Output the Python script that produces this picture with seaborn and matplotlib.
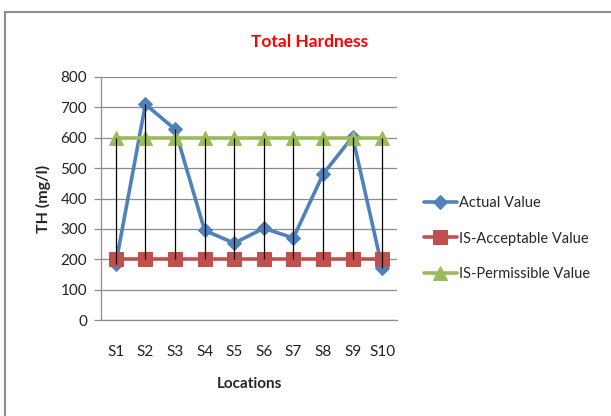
import matplotlib
matplotlib.use("Agg")
import matplotlib.pyplot as plt
from matplotlib.patches import Rectangle
import seaborn as sns
import pandas as pd
import numpy as np

# Sampling locations and measured total hardness (mg/l)
locations = ["S1", "S2", "S3", "S4", "S5", "S6", "S7", "S8", "S9", "S10"]
actual_value = [185, 710, 628, 295, 253, 302, 270, 480, 603, 172]
acceptable_value = [200, 200, 200, 200, 200, 200, 200, 200, 200, 200]
permissible_value = [600, 600, 600, 600, 600, 600, 600, 600, 600, 600]
series_names = ["Actual Value", "IS-Acceptable Value", "IS-Permissible Value"]
y_ticks = [0, 100, 200, 300, 400, 500, 600, 700, 800]

sns.set_theme(style="white")
plt.rcParams["font.family"] = ["Lato", "DejaVu Sans"]

df = pd.DataFrame({
    "pos": list(range(len(locations))) * 3,
    "value": actual_value + acceptable_value + permissible_value,
    "series": [series_names[0]] * len(locations)
    + [series_names[1]] * len(locations)
    + [series_names[2]] * len(locations),
})

palette = {series_names[0]: "#4F81BD", series_names[1]: "#C0504D", series_names[2]: "#9BBB59"}
markers = {series_names[0]: "D", series_names[1]: "s", series_names[2]: "^"}
msize = {series_names[0]: 7, series_names[1]: 9.5, series_names[2]: 9.5}

fig = plt.figure(figsize=(6.11, 4.16), dpi=100)
ax = fig.add_axes([101 / 611, 1 - 320 / 416, 296 / 611, 243 / 416])

for i, name in enumerate(series_names):
    sub = df[df["series"] == name]
    sns.lineplot(data=sub, x="pos", y="value", ax=ax, color=palette[name],
                 marker=markers[name], markersize=msize[name],
                 markeredgecolor=palette[name], linewidth=2.6,
                 label=name, zorder=3 + i)

# High-low lines spanning all series at each location
stack = np.array([actual_value, acceptable_value, permissible_value])
ax.vlines(range(len(locations)), stack.min(axis=0), stack.max(axis=0),
          color="black", linewidth=0.9, zorder=10)

ax.set_xlim(-0.5, len(locations) - 0.5)
ax.set_ylim(0, 800)
ax.set_yticks(y_ticks)
ax.set_xticks(range(len(locations)))
ax.set_xticklabels(locations)
ax.yaxis.grid(True, color="#8C8C8C", linewidth=0.9)
ax.set_axisbelow(True)
for s in ["top", "right"]:
    ax.spines[s].set_visible(False)
for s in ["left", "bottom"]:
    ax.spines[s].set_color("#8C8C8C")
    ax.spines[s].set_linewidth(0.9)
ax.tick_params(axis="y", which="major", left=True, length=5, width=0.9,
               color="#8C8C8C", labelsize=11, pad=5, labelcolor="#222222")
ax.tick_params(axis="x", bottom=False, labelsize=11, pad=12, labelcolor="#222222")

ax.set_xlabel("Locations", fontsize=11, fontweight="bold", labelpad=13)
ax.set_ylabel("TH (mg/l)", fontsize=11.5, fontweight="bold", labelpad=7)

fig.text(310 / 611, 1 - 42 / 416, "Total Hardness", color="#FF0000",
         fontsize=12.5, fontweight="bold", ha="center", va="center")

leg = ax.legend(loc="center left", bbox_to_anchor=(1.07, 0.335), frameon=False,
                fontsize=10.5, handlelength=2.3, handletextpad=0.1, labelspacing=1.5,
                borderaxespad=0)

# Outer chart frame
fig.patches.append(Rectangle((5 / 611, -0.1), 1.2, 1.1 - 12 / 416,
                             transform=fig.transFigure, fill=False,
                             edgecolor="#8C8C8C", linewidth=1.5))

fig.savefig("out.png", dpi=100)
